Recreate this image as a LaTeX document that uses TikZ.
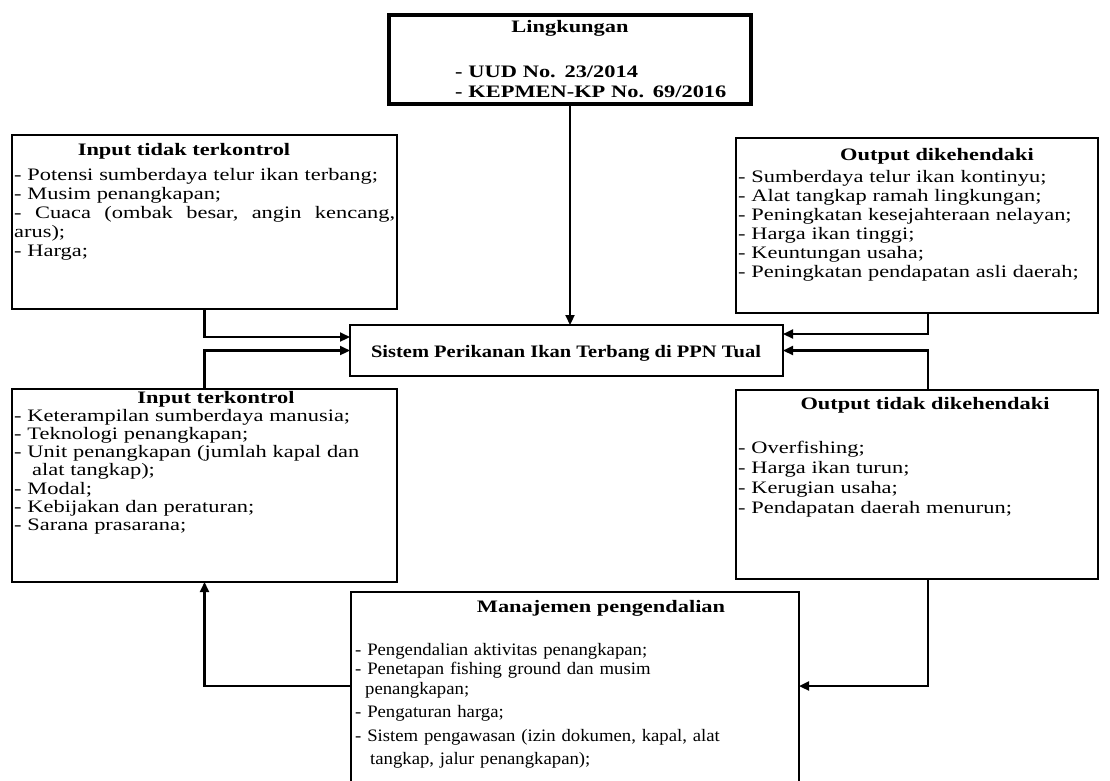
\documentclass[tikz,border=0pt]{standalone}
\usepackage{fontspec}
\setmainfont{Liberation Serif}[FakeStretch=1.28]
\newfontfamily\manfont{Liberation Serif}[FakeStretch=1.07]
\newfontfamily\sysfont{Liberation Serif}[FakeStretch=1.17]
\usetikzlibrary{arrows.meta}
\begin{document}
\begin{tikzpicture}[x=1pt,y=-1pt,
  box/.style={draw,line width=2.2pt,inner sep=0pt,outer sep=0pt,anchor=north west},
  conn/.style={line width=2.2pt,-{Triangle[length=10pt,width=9pt]}},
  body/.style={inner sep=0pt,anchor=base west,align=left,text width=#1,font=\fontsize{17.5}{19}\selectfont},
  ttl/.style={inner sep=0pt,anchor=base,font=\fontsize{17.5}{19}\selectfont\bfseries}]
\useasboundingbox (0,0) rectangle (1110,780);

% boxes
\node[box,line width=3.5pt,minimum width=362pt,minimum height=89pt] (ling) at (389,15) {};
\node[box,minimum width=385pt,minimum height=174pt] (itt) at (12,135) {};
\node[box,minimum width=362pt,minimum height=175pt] (od) at (736,138) {};
\node[box,minimum width=433pt,minimum height=51pt] (sys) at (350,325) {};
\node[box,minimum width=385pt,minimum height=193pt] (it) at (12,389) {};
\node[box,minimum width=362pt,minimum height=189pt] (otd) at (736,390) {};
\node[box,minimum width=448pt,minimum height=220pt] (man) at (351,592) {};

% texts
\node[ttl] (lingt) at (570,32) {Lingkungan};
\node[body=330pt,font=\fontsize{17.5}{20}\selectfont\bfseries] (lingb) at (455,77)
  {- UUD No. 23/2014\\- KEPMEN-KP No. 69/2016};

\node[ttl] (ittt) at (184,155) {Input tidak terkontrol};
\node[body=383pt,font=\fontsize{17.5}{19.2}\selectfont] (ittb) at (14,180)
  {- Potensi sumberdaya telur ikan terbang;\\
   - Musim penangkapan;\\
   \leavevmode\hbox to 381pt{-\hfill Cuaca\hfill (ombak\hfill besar,\hfill angin\hfill kencang,}\\
   arus);\\
   - Harga;};

\node[ttl] (odt) at (937,160) {Output dikehendaki};
\node[body=360pt] (odb) at (738,182)
  {- Sumberdaya telur ikan kontinyu;\\
   - Alat tangkap ramah lingkungan;\\
   - Peningkatan kesejahteraan nelayan;\\
   - Harga ikan tinggi;\\
   - Keuntungan usaha;\\
   - Peningkatan pendapatan asli daerah;};

\node[ttl,font=\fontsize{17.5}{19}\sysfont\bfseries] (syst) at (566,357) {Sistem Perikanan Ikan Terbang di PPN Tual};

\node[ttl] (itt2) at (216,403) {Input terkontrol};
\node[body=383pt,font=\fontsize{17.5}{18.3}\selectfont] (itb) at (14,421)
  {- Keterampilan sumberdaya manusia;\\
   - Teknologi penangkapan;\\
   - Unit penangkapan (jumlah kapal dan\\
   \hspace*{18pt}alat tangkap);\\
   - Modal;\\
   - Kebijakan dan peraturan;\\
   - Sarana prasarana;};

\node[ttl] (otdt) at (925,409) {Output tidak dikehendaki};
\node[body=360pt,font=\fontsize{17.5}{20.3}\selectfont] (otdb) at (738,453)
  {- Overfishing;\\
   - Harga ikan turun;\\
   - Kerugian usaha;\\
   - Pendapatan daerah menurun;};

\node[ttl] (mant) at (601,612) {Manajemen pengendalian};
\node[body=500pt,font=\fontsize{17.5}{19}\manfont] (manb) at (355,655)
  {- Pengendalian aktivitas penangkapan;\\
   - Penetapan fishing ground dan musim\\[1pt]
   \hspace*{10pt}penangkapan;\\[4pt]
   - Pengaturan harga;\\[5pt]
   - Sistem pengawasan (izin dokumen, kapal, alat\\[4pt]
   \hspace*{15pt}tangkap, jalur penangkapan);};

% connectors
\draw[conn] (ling.south) -- (ling.south |- sys.north);
\draw[conn] (itt.south) |- ([yshift=13.5pt]sys.west);
\draw[conn] (it.north) |- (sys.west);
\draw[conn] ([xshift=192pt]od.south west) |- ([yshift=16.5pt]sys.east);
\draw[conn] ([xshift=192pt]otd.north west) |- (sys.east);
\draw[conn] ([xshift=192pt]otd.south west) |- ([yshift=16pt]man.east);
\draw[conn] ([yshift=16pt]man.west) -| (it.south);
\end{tikzpicture}
\end{document}
